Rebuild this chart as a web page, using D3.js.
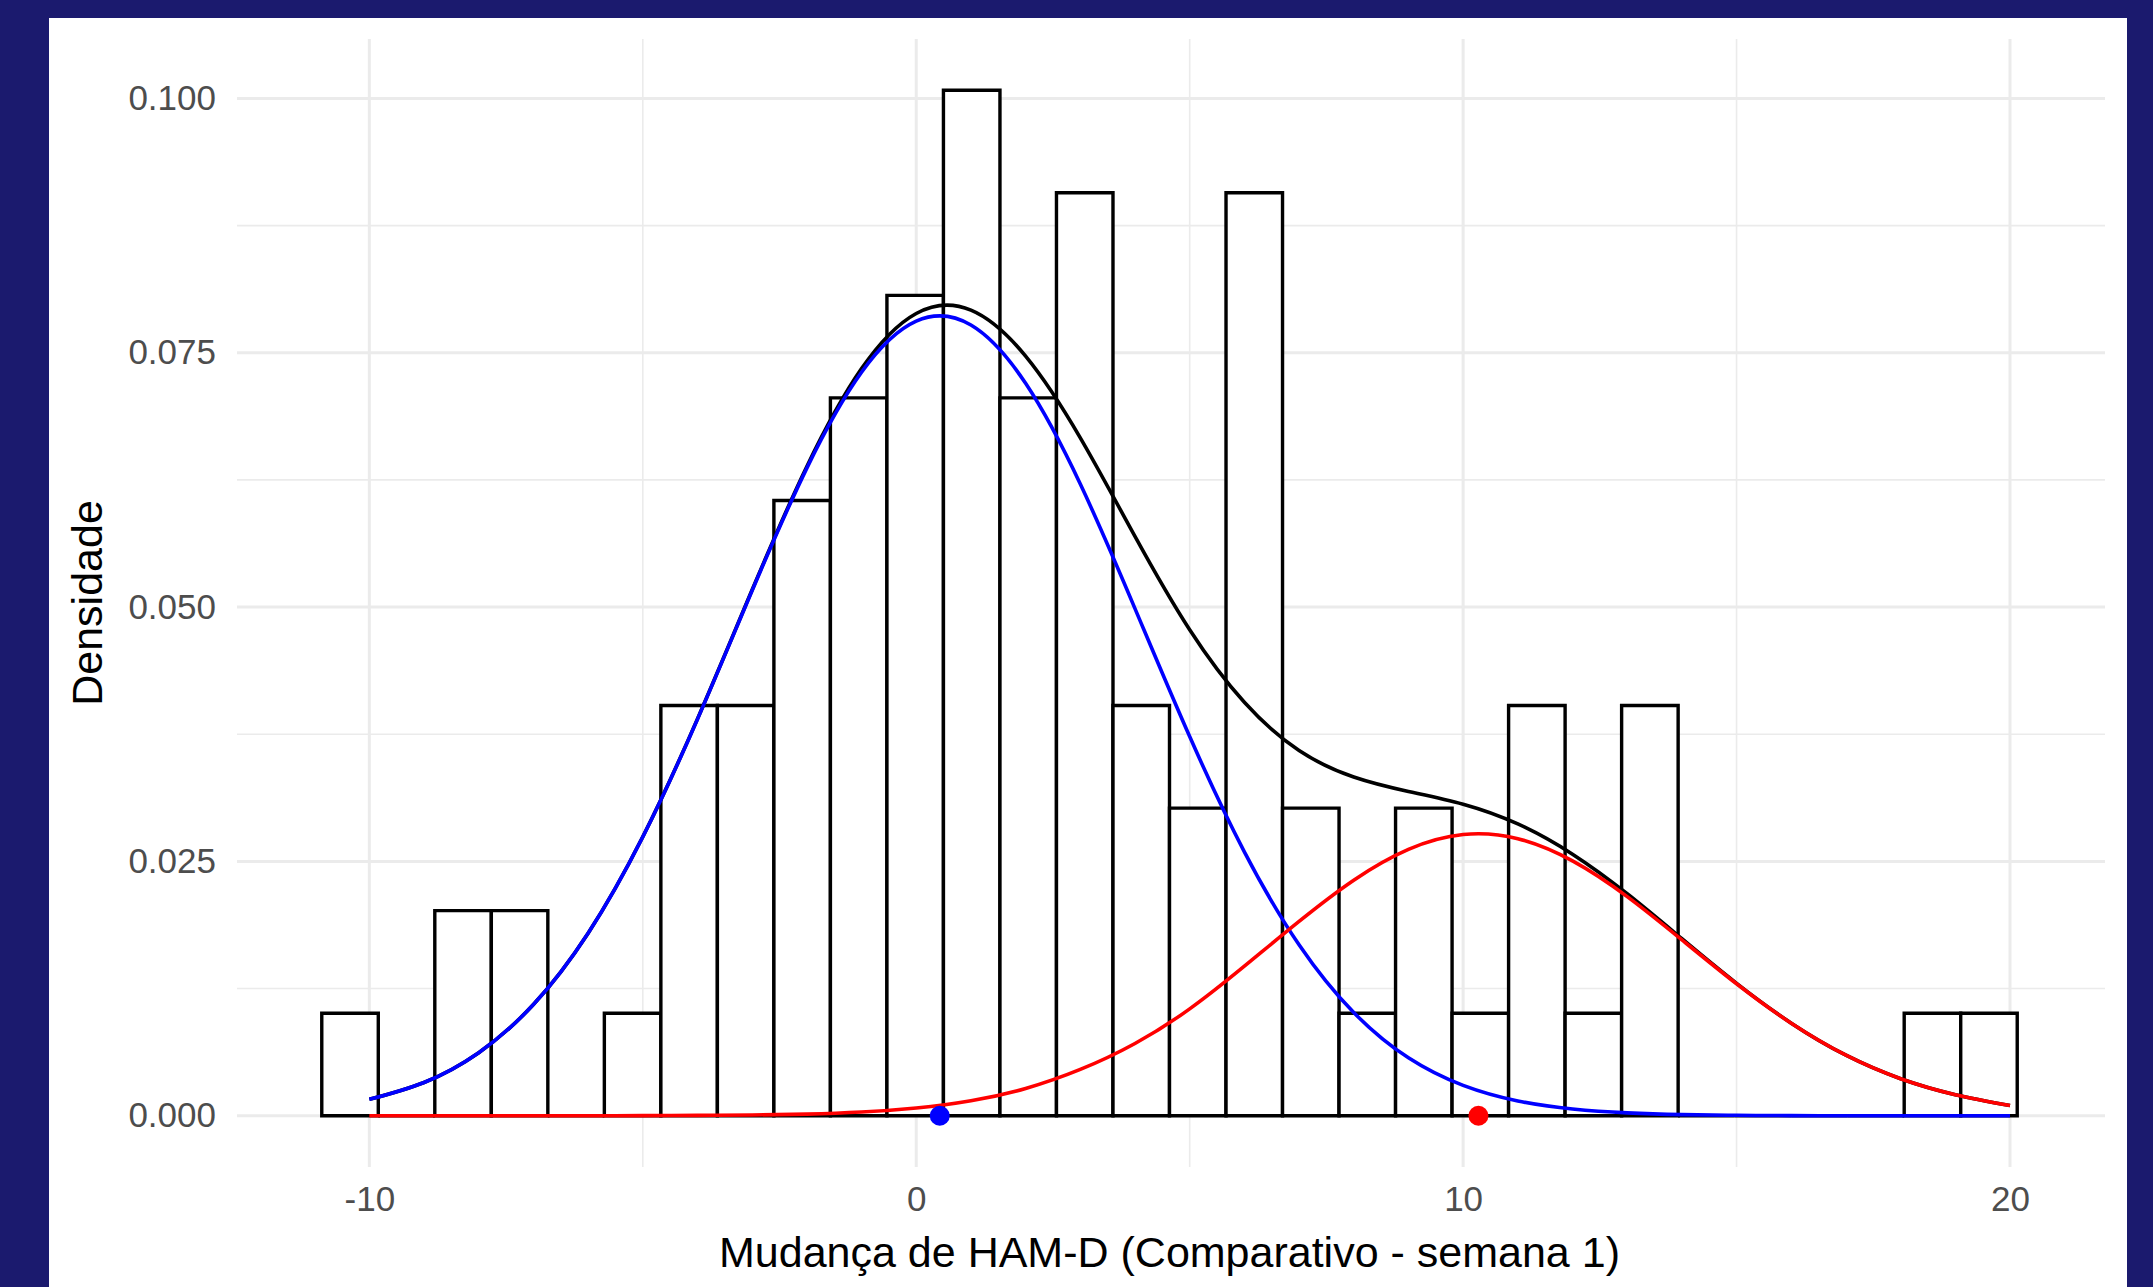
<!DOCTYPE html>
<html>
<head>
<meta charset="utf-8">
<script src="https://cdn.jsdelivr.net/npm/d3@7"></script>
<style>
  body { margin: 0; background: #1b1a6e; overflow: hidden; }
  text { font-family: 'Liberation Sans', Arial, sans-serif; }
</style>
</head>
<body>
<script>
const w = 2153
const h = 1287

// histogram: 30 bins, counts (n = 96)
const binStart = -10.87
const binWidth = 1.0334
const binCounts = [1, 0, 2, 2, 0, 1, 4, 4, 6, 7, 8, 10, 7, 9, 4, 3, 9, 3, 1, 3, 1, 4, 1, 4, 0, 0, 0, 0, 1, 1]

// density curves, read at x = -10 ... 20
const curveX = [-10, -9, -8, -7, -6, -5, -4, -3, -2, -1, 0, 1, 2, 3, 4, 5, 6, 7, 8, 9, 10, 11, 12, 13, 14, 15, 16, 17, 18, 19, 20]
const mixTotal = [0.00161, 0.00327, 0.00620, 0.01093, 0.01794, 0.02742, 0.03901, 0.05170, 0.06382, 0.07344, 0.07886, 0.07919, 0.07467, 0.06664, 0.05695, 0.04777, 0.04064, 0.03590, 0.03329, 0.03187, 0.03062, 0.02868, 0.02571, 0.02182, 0.01740, 0.01301, 0.00910, 0.00595, 0.00364, 0.00207, 0.00100]
const compBlue = [0.00161, 0.00327, 0.00620, 0.01093, 0.01794, 0.02741, 0.03898, 0.05163, 0.06366, 0.07308, 0.07810, 0.07772, 0.07199, 0.06209, 0.04985, 0.03727, 0.02594, 0.01680, 0.01014, 0.00569, 0.00298, 0.00145, 0.00066, 0.00028, 0.00011, 0.00004, 0.00001, 0, 0, 0, 0]
const compRed = [0, 0, 0, 0, 0, 0.00001, 0.00003, 0.00007, 0.00016, 0.00036, 0.00076, 0.00147, 0.00268, 0.00455, 0.00710, 0.01050, 0.01470, 0.01910, 0.02315, 0.02618, 0.02764, 0.02723, 0.02505, 0.02154, 0.01729, 0.01297, 0.00909, 0.00595, 0.00364, 0.00207, 0.00100]

// component means (dots on the x axis)
const meanX = [0.43, 10.28]
const meanColors = ['#0000ff', '#ff0000']

const xTicks = [-10, 0, 10, 20]
const xMinor = [-5, 5, 15]
const yTicks = [0, 0.025, 0.05, 0.075, 0.1]
const yMinor = [0.0125, 0.0375, 0.0625, 0.0875]

const panel = { left: 237, right: 2102, top: 39, bottom: 1167 }

const nTotal = d3.sum(binCounts)
const bins = binCounts.map(function (c, i) {
    return {
        x0: binStart + i * binWidth,
        x1: binStart + (i + 1) * binWidth,
        density: c / (nTotal * binWidth)
    }
})

const xLo = binStart
const xHi = binStart + binCounts.length * binWidth
const xPad = (xHi - xLo) * 0.05
const yMax = d3.max(bins, function (d) { return d.density })

const xScale = d3.scaleLinear()
    .domain([xLo - xPad, xHi + xPad])
    .range([panel.left, panel.right])

const yScale = d3.scaleLinear()
    .domain([-yMax * 0.05, yMax * 1.05])
    .range([panel.bottom, panel.top])

const svg = d3.select('body')
    .append('svg')
    .attr('width', w)
    .attr('height', h)

// white plot area on navy
svg.append('rect')
    .attr('x', 49)
    .attr('y', 18)
    .attr('width', 2078)
    .attr('height', h - 18)
    .attr('fill', '#ffffff')

// grid
const grid = svg.append('g')
grid.selectAll('.hminor').data(yMinor).enter().append('line')
    .attr('x1', panel.left).attr('x2', panel.right + 3)
    .attr('y1', d => yScale(d)).attr('y2', d => yScale(d))
    .attr('stroke', '#ebebeb').attr('stroke-width', 1.6)
grid.selectAll('.vminor').data(xMinor).enter().append('line')
    .attr('y1', panel.top).attr('y2', panel.bottom)
    .attr('x1', d => xScale(d)).attr('x2', d => xScale(d))
    .attr('stroke', '#ebebeb').attr('stroke-width', 1.6)
grid.selectAll('.hmajor').data(yTicks).enter().append('line')
    .attr('x1', panel.left).attr('x2', panel.right + 3)
    .attr('y1', d => yScale(d)).attr('y2', d => yScale(d))
    .attr('stroke', '#ebebeb').attr('stroke-width', 3)
grid.selectAll('.vmajor').data(xTicks).enter().append('line')
    .attr('y1', panel.top).attr('y2', panel.bottom)
    .attr('x1', d => xScale(d)).attr('x2', d => xScale(d))
    .attr('stroke', '#ebebeb').attr('stroke-width', 3)

// histogram bars (paths so that empty bins still draw their base line)
svg.append('g').selectAll('path').data(bins).enter().append('path')
    .attr('d', function (d) {
        const x0 = xScale(d.x0), x1 = xScale(d.x1)
        const y0 = yScale(0), y1 = yScale(d.density)
        return `M${x0},${y0}V${y1}H${x1}V${y0}Z`
    })
    .attr('fill', '#ffffff')
    .attr('stroke', '#000000')
    .attr('stroke-width', 3.4)
    .attr('stroke-linejoin', 'miter')

// curves
function drawCurve (values, colour) {
    const lineFun = d3.line()
        .x(function (d, i) { return xScale(curveX[i]) })
        .y(function (d) { return yScale(d) })
        .curve(d3.curveNatural)
    svg.append('path')
        .attr('d', lineFun(values))
        .attr('fill', 'none')
        .attr('stroke', colour)
        .attr('stroke-width', 3.6)
}
drawCurve(mixTotal, '#000000')
drawCurve(compBlue, '#0000ff')
drawCurve(compRed, '#ff0000')

// means
svg.append('g').selectAll('circle').data(meanX).enter().append('circle')
    .attr('cx', d => xScale(d))
    .attr('cy', yScale(0))
    .attr('r', 10)
    .attr('fill', (d, i) => meanColors[i])

// axes (labels only, theme_minimal style)
const yAxis = svg.append('g')
    .attr('transform', `translate(${panel.left},0)`)
    .call(d3.axisLeft(yScale).tickValues(yTicks).tickSize(0).tickPadding(21).tickFormat(d3.format('.3f')))
const xAxis = svg.append('g')
    .attr('transform', `translate(0,${panel.bottom})`)
    .call(d3.axisBottom(xScale).tickValues(xTicks).tickSize(0).tickPadding(19).tickFormat(d => String(d)))

svg.selectAll('.domain').remove()
svg.selectAll('.tick text')
    .attr('font-family', "'Liberation Sans', Arial, sans-serif")
    .attr('font-size', 35)
    .attr('fill', '#4d4d4d')

// titles
svg.append('text')
    .attr('x', (panel.left + panel.right) / 2)
    .attr('y', 1267)
    .attr('text-anchor', 'middle')
    .attr('font-size', 43)
    .attr('fill', '#000000')
    .text('Mudança de HAM-D (Comparativo - semana 1)')

svg.append('text')
    .attr('transform', `translate(102,${(panel.top + panel.bottom) / 2}) rotate(-90)`)
    .attr('text-anchor', 'middle')
    .attr('font-size', 43)
    .attr('fill', '#000000')
    .text('Densidade')
</script>
</body>
</html>
